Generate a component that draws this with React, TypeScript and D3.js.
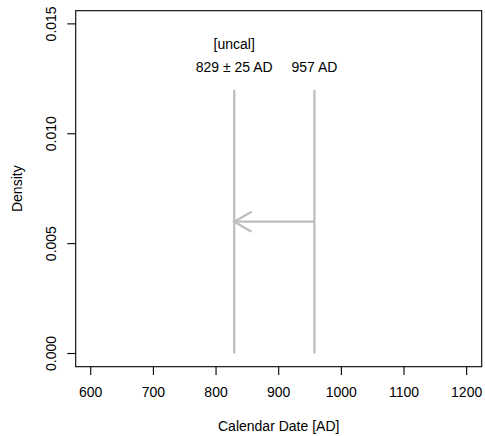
import React from "react";
import * as d3 from "d3";

const xTicks = [600, 700, 800, 900, 1000, 1100, 1200];
const yTicks = [0, 0.005, 0.01, 0.015];
const uncalDate = 829;
const uncalErr = 25;
const calDate = 957;
const lineTop = 0.012;
const arrowY = 0.006;

export default function App() {
  const W = 485, H = 436;
  const left = 75.7, right = 481.7, top = 10.7, bottom = 366.7;
  const x = d3.scaleLinear().domain([576, 1224]).range([left, right]);
  const y = d3.scaleLinear().domain([-0.0006, 0.0156]).range([bottom, top]);
  const grey = "#BEBEBE";
  const font = "Liberation Sans, Arial, sans-serif";
  const fs = 14;
  const lh = 16.8;
  const xa = x(uncalDate), xb = x(calDate), ya = y(arrowY);
  const L = 20;
  const hx = L * Math.cos(Math.PI / 6), hy = L * Math.sin(Math.PI / 6);
  return (
    <svg width={W} height={H} style={{ position: "absolute", left: 0, top: 0 }} fontFamily={font}>
      <rect width={W} height={H} fill="white" />
      <rect x={left} y={top} width={right - left} height={bottom - top} fill="none" stroke="black" strokeWidth={1.1} />
      {xTicks.map((t) => (
        <g key={t}>
          <line x1={x(t)} x2={x(t)} y1={bottom} y2={bottom + lh / 2} stroke="black" strokeWidth={1.1} />
          <text x={x(t)} y={bottom + 1.8 * lh} textAnchor="middle" fontSize={fs}>{t}</text>
        </g>
      ))}
      {yTicks.map((t) => (
        <g key={t}>
          <line x1={left - lh / 2} x2={left} y1={y(t)} y2={y(t)} stroke="black" strokeWidth={1.1} />
          <text transform={`translate(${left - 1.2 * lh},${y(t)}) rotate(-90)`} textAnchor="middle" fontSize={fs}>{d3.format(".3f")(t)}</text>
        </g>
      ))}
      <text x={(left + right) / 2} y={bottom + 3.8 * lh} textAnchor="middle" fontSize={fs}>Calendar Date [AD]</text>
      <text transform={`translate(${left - 3.2 * lh},${(top + bottom) / 2}) rotate(-90)`} textAnchor="middle" fontSize={fs}>Density</text>
      <line x1={xa} x2={xa} y1={y(0)} y2={y(lineTop)} stroke={grey} strokeWidth={2.3} />
      <line x1={xb} x2={xb} y1={y(0)} y2={y(lineTop)} stroke={grey} strokeWidth={2.3} />
      <line x1={xb} x2={xa} y1={ya} y2={ya} stroke={grey} strokeWidth={2.3} />
      <polyline points={`${xa + hx},${ya - hy} ${xa},${ya} ${xa + hx},${ya + hy}`} fill="none" stroke={grey} strokeWidth={2.3} />
      <text x={xa} y={48.5} textAnchor="middle" fontSize={fs}>[uncal]</text>
      <text x={xa} y={71.7} textAnchor="middle" fontSize={fs}>{`${uncalDate} ± ${uncalErr} AD`}</text>
      <text x={xb} y={71.7} textAnchor="middle" fontSize={fs}>{`${calDate} AD`}</text>
    </svg>
  );
}
